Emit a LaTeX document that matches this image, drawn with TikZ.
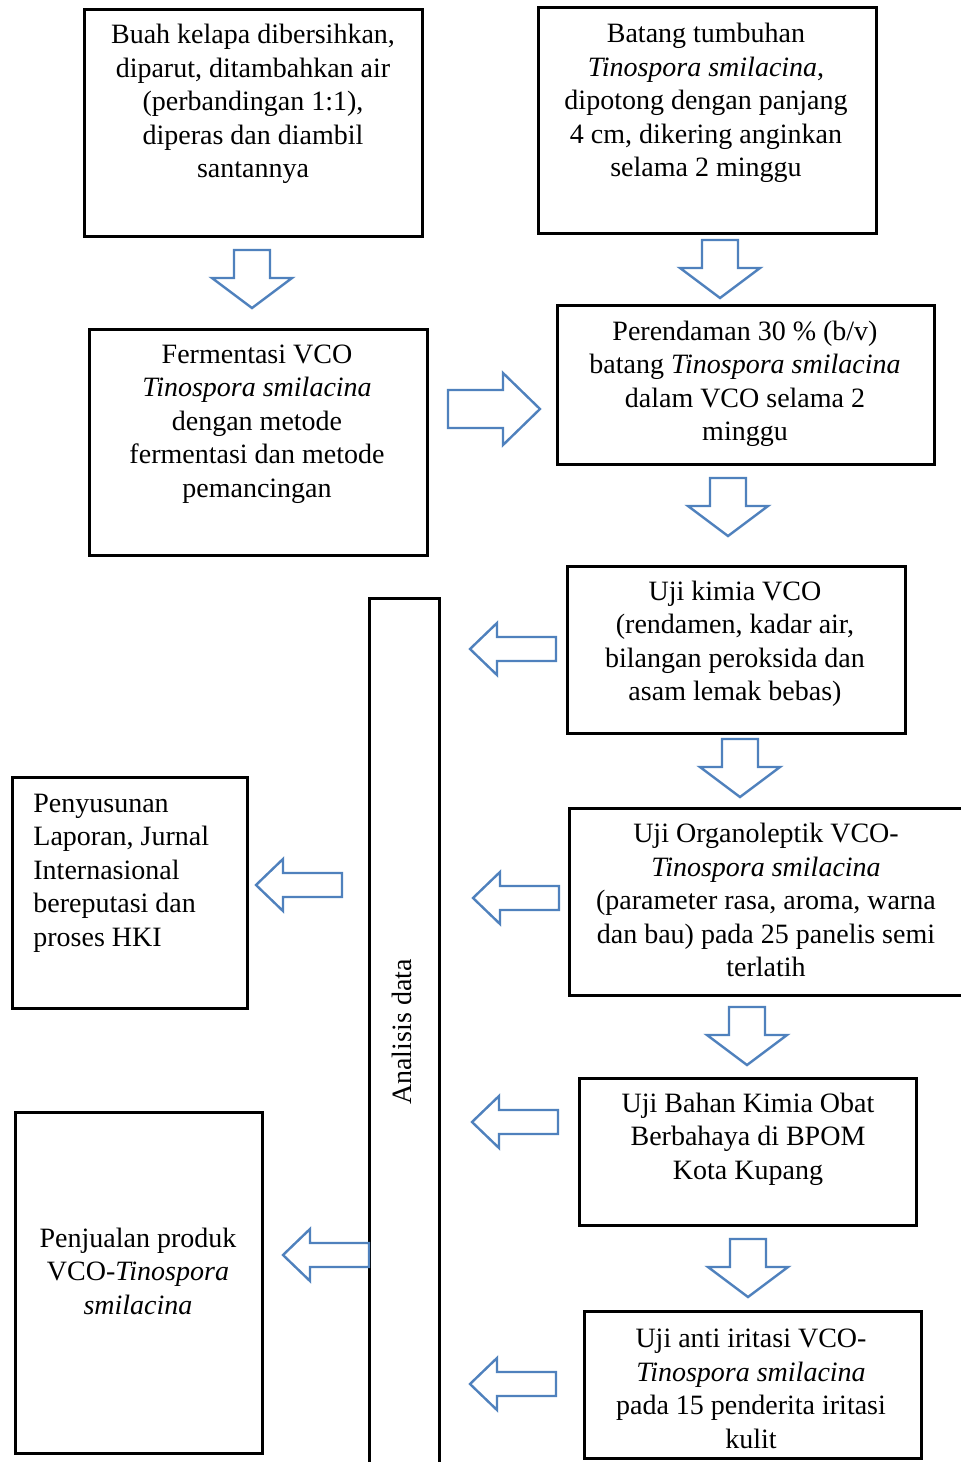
\documentclass[tikz,border=0pt]{standalone}
\usepackage{fontspec}
\setmainfont{Liberation Serif}
\definecolor{arrowblue}{HTML}{4F81BD}
\tikzset{
  box/.style={draw=black, line width=1.5pt, fill=white, inner sep=0pt},
  txt/.style={align=center, font=\fontsize{14}{16.75}\selectfont, inner sep=0pt},
  txtl/.style={align=left, font=\fontsize{14}{16.75}\selectfont, inner sep=0pt},
  barrow/.style={draw=arrowblue, line width=1.2pt, fill=white, line join=miter},
}
% down block arrow: top-centre at (#1,#2)
\newcommand{\downblock}[2]{%
  \draw[barrow, shift={(#1,#2)}] (-18,0) -- (18,0) -- (18,28) -- (40,28) -- (0,58) -- (-40,28) -- (-18,28) -- cycle;}
% left block arrow: tip at (#1,#2)
\newcommand{\leftblock}[2]{%
  \draw[barrow, shift={(#1,#2)}] (0,0) -- (27,-26) -- (27,-12) -- (86,-12) -- (86,12) -- (27,12) -- (27,26) -- cycle;}
\begin{document}
\begin{tikzpicture}[x=0.5pt, y=-0.5pt]
\useasboundingbox (0,0) rectangle (961,1462);
\clip (0,0) rectangle (961,1462);
\fill[white] (0,0) rectangle (961,1462);

% boxes
\node[box, minimum width=169pt, minimum height=113.5pt] (A) at (253,122.5) {};
\node[box, minimum width=169pt, minimum height=113pt] (B) at (707,120) {};
\node[box, minimum width=169pt, minimum height=113pt] (C) at (258,442) {};
\node[box, minimum width=188.5pt, minimum height=79.5pt] (D) at (745.5,384.5) {};
\node[box, minimum width=35pt, minimum height=445pt] (AD) at (404,1043) {};
\node[box, minimum width=169pt, minimum height=83.5pt] (E) at (736,649.5) {};
\node[box, minimum width=200pt, minimum height=93.5pt] (F) at (769,901.5) {};
\node[box, minimum width=117.5pt, minimum height=115.5pt] (G) at (129.5,892.5) {};
\node[box, minimum width=168.5pt, minimum height=73.5pt] (H) at (747.5,1151.5) {};
\node[box, minimum width=168.5pt, minimum height=73.5pt] (I) at (752.5,1384.5) {};
\node[box, minimum width=123.5pt, minimum height=170.5pt] (J) at (138.5,1282.5) {};

% texts
\node[txt] (tA) at (253,104) {Buah kelapa dibersihkan,\\diparut, ditambahkan air\\(perbandingan 1:1),\\diperas dan diambil\\santannya};
\node[txt] (tB) at (706,103) {Batang tumbuhan\\\textit{Tinospora smilacina},\\dipotong dengan panjang\\4 cm, dikering anginkan\\selama 2 minggu};
\node[txt] (tC) at (257,424) {Fermentasi VCO\\\textit{Tinospora smilacina}\\dengan metode\\fermentasi dan metode\\pemancingan};
\node[txt] (tD) at (745,384) {Perendaman 30 \% (b/v)\\batang \textit{Tinospora smilacina}\\dalam VCO selama 2\\minggu};
\node[txt] (tE) at (735,644) {Uji kimia VCO\\(rendamen, kadar air,\\bilangan peroksida dan\\asam lemak bebas)};
\node[txt] (tF) at (766,900) {Uji Organoleptik VCO-\\\textit{Tinospora smilacina}\\(parameter rasa, aroma, warna\\dan bau) pada 25 panelis semi\\terlatih};
\node[txtl, anchor=west] (tG) at (33,873) {Penyusunan\\Laporan, Jurnal\\Internasional\\bereputasi dan\\proses HKI};
\node[txt] (tH) at (748,1139) {Uji Bahan Kimia Obat\\Berbahaya di BPOM\\Kota Kupang};
\node[txt] (tI) at (751,1389) {Uji anti iritasi VCO-\\\textit{Tinospora smilacina}\\pada 15 penderita iritasi\\kulit};
\node[txt] (tJ) at (138,1271) {Penjualan produk\\VCO-\textit{Tinospora}\\\textit{smilacina}};
\node[txt, rotate=90] (tAD) at (402,1032) {Analisis data};

% block arrows
\downblock{252}{250}
\downblock{720}{240}
\downblock{728}{478}
\downblock{740}{739}
\downblock{747}{1007}
\downblock{748}{1239}
\draw[barrow] (448,390) -- (503,390) -- (503,373) -- (540,409) -- (503,445) -- (503,428) -- (448,428) -- cycle;
\leftblock{470}{649}
\leftblock{473}{898}
\leftblock{256}{885}
\leftblock{472}{1122}
\leftblock{470}{1384}
\leftblock{283}{1255}
\end{tikzpicture}
\end{document}
